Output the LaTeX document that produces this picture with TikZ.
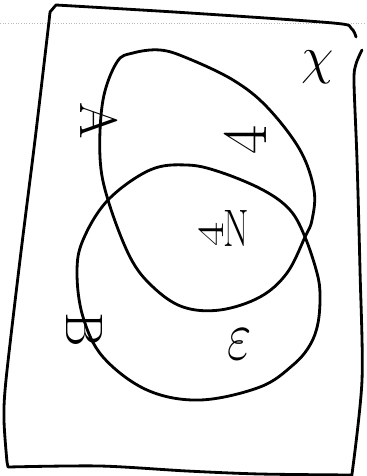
\RequirePackage{fix-cm}
\documentclass[tikz,border=0pt]{standalone}
\usepackage{graphicx}
\usetikzlibrary{positioning}

\begin{document}
\begin{tikzpicture}[
    x=0.02cm, y=-0.02cm,
    pen/.style={line width=1.6pt, line cap=round, line join=round, draw=black},
    hand/.style={inner sep=0pt, font=\fontsize{30}{30}\selectfont},
    handrot/.style={hand, rotate=-90},
    ruled/.style={gray!55, densely dotted, line width=0.5pt}
]
    \useasboundingbox (0,0) rectangle (366,476);

    % faint ruled line of the sheet
    \draw[ruled] (0,23) -- (366,23);

    % Universe (hand drawn frame)
    \draw[pen] plot[smooth] coordinates {(362,50) (356,64) (354,82) (357,160) (360,270) (362,380) (352,474)}
        -- plot[smooth] coordinates {(352,475) (260,474) (187,471) (100,466) (8,467)}
        -- plot[smooth] coordinates {(7,462) (4,420) (6,380) (20,260) (35,140) (48,30) (50,12)}
        -- plot[smooth] coordinates {(56,5) (190,13) (333,23) (351,28) (356,37)};

    % Set A
    \draw[pen] plot[smooth cycle, tension=0.6] coordinates {(160,50) (187,58) (233,80) (267,107)
        (300,150) (314,190) (312,220) (305,237) (287,273) (260,297) (220,310) (183,307)
        (153,287) (130,257) (108,200) (100,157) (103,100) (117,62) (133,53)};

    % Set B
    \draw[pen] plot[smooth cycle, tension=0.6] coordinates {(187,165) (220,172) (263,190) (290,210)
        (305,237) (317,273) (320,295) (318,323) (310,345) (293,365) (260,387) (200,400)
        (147,390) (103,357) (83,317) (77,273) (83,240) (108,200) (150,170)};

    % Labels
    \node[handrot] (labelA) at (99,121) {A};
    \node[handrot] (labelB) at (84,330) {B};
    \node[hand] (labelX) at (318,67) {$\chi$};

    % Counts
    \node[hand, rotate=90, font=\fontsize{36}{36}\selectfont] (onlyA) at (245,140) {4};
    \node[hand] (bothAB) at (224,228) {\scalebox{0.7}[1]{\rotatebox{90}{4}N}};
    \node[hand, font=\fontsize{40}{40}\selectfont] (onlyB) at (240,344) {\scalebox{0.75}[1]{$\varepsilon$}};
\end{tikzpicture}
\end{document}
